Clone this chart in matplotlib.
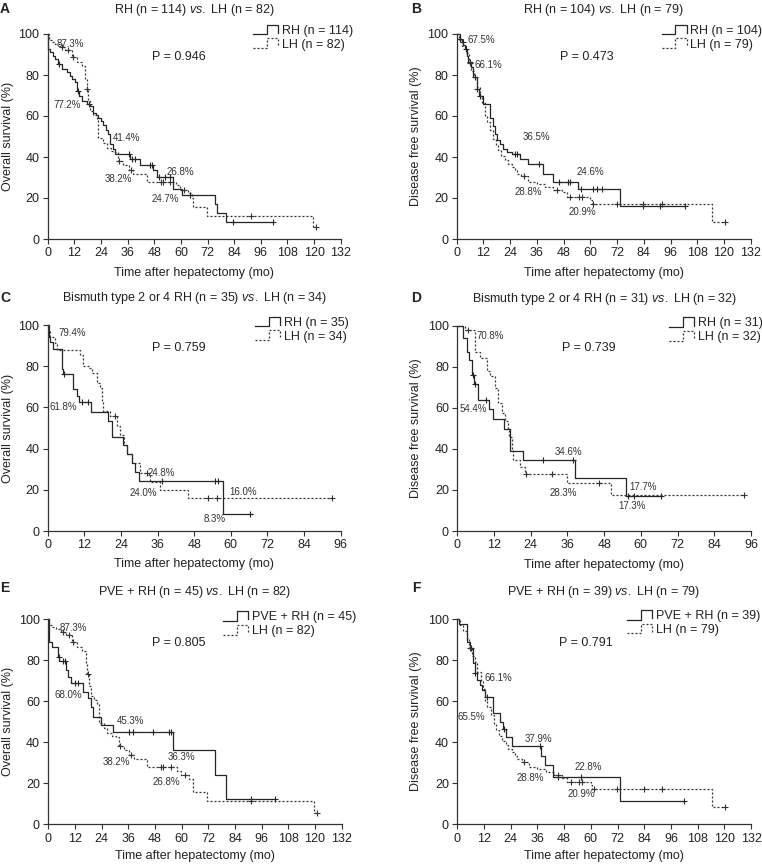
import numpy as np
import matplotlib
matplotlib.use('Agg')
import matplotlib.pyplot as plt
from matplotlib.legend_handler import HandlerBase
from matplotlib.lines import Line2D

plt.rcParams['font.family'] = ['Liberation Sans', 'DejaVu Sans']
plt.rcParams['mathtext.fontset'] = 'custom'
plt.rcParams['mathtext.it'] = 'Liberation Sans:italic'
plt.rcParams['mathtext.rm'] = 'Liberation Sans'
plt.rcParams['font.size'] = 9
plt.rcParams['text.color'] = '#222222'

# ---------------- data (step times in months, survival in %) ----------------

# A: overall survival, RH (n = 114)
a_rh_t = [0, 0.3, 1.0, 2.2, 3.3, 4.8, 6.5, 8.6, 10.0, 10.8, 12.3, 13.1, 14.2, 15.3, 17.9,
          19.1, 20.6, 21.8, 22.8, 24.0, 25.1, 26.2, 27.3, 28.1, 29.2, 30.3, 37.1, 41.6,
          47.5, 49.1, 56.6, 60.4, 75.4, 76.4, 80.3]
a_rh_s = [100, 92.8, 91.1, 89.5, 88.0, 85.4, 83.0, 81.3, 79.5, 78.0, 76.4, 72.3, 69.8, 67.4,
          65.7, 64.9, 61.6, 60.4, 59.2, 57.4, 55.6, 53.3, 51.0, 46.1, 43.7, 41.4, 39.2, 36.0,
          33.8, 30.3, 24.6, 21.4, 17.3, 12.8, 8.4]
a_rh_end = 101.6
a_rh_cens = [5.0, 13.5, 18.5, 36.5, 38.0, 39.5, 46.0, 47.0, 50.0, 53.0, 55.0, 64.0, 83.6, 101.6]

# overall survival, LH (n = 82), used in A and E
lh_os_t = [0, 0.5, 1.8, 3.3, 5.6, 7.8, 10.8, 13.1, 15.3, 16.8, 17.6, 18.3, 19.1, 20.5, 22.1,
           22.8, 25.1, 26.6, 28.5, 30.3, 31.8, 34.1, 36.5, 38.6, 44.6, 58.0, 59.6, 63.4,
           64.9, 65.3, 71.6, 119.7]
lh_os_s = [100, 97.2, 96.0, 95.2, 93.6, 92.0, 88.7, 86.2, 84.6, 78.0, 73.0, 67.4, 62.5, 60.5,
           58.4, 49.3, 46.9, 44.4, 43.0, 42.4, 38.0, 36.0, 33.8, 31.9, 27.9, 26.2, 23.8, 22.2,
           19.8, 15.7, 11.2, 5.7]
lh_os_end = 121.0
lh_os_cens = [6.5, 9.3, 11.3, 17.7, 32.3, 37.4, 50.9, 51.8, 55.1, 61.3, 91.4, 121.0]

# B: disease free survival, RH (n = 104)
b_rh_t = [0, 1.5, 2.2, 3.0, 3.7, 4.8, 5.2, 6.3, 7.5, 9.0, 10.2, 11.7, 15.0, 16.5, 17.2, 18.3,
          19.5, 21.0, 22.5, 24.7, 28.4, 32.2, 38.9, 43.4, 54.6, 73.4]
b_rh_s = [100, 97.7, 96.0, 94.5, 92.8, 89.5, 86.2, 83.8, 78.9, 73.1, 69.8, 65.7, 59.2, 55.1,
          51.0, 48.5, 46.1, 44.0, 42.4, 41.3, 39.2, 36.8, 31.9, 27.9, 24.6, 16.3]
b_rh_end = 102.5
b_rh_cens = [1.6, 2.7, 4.2, 6.0, 8.0, 9.3, 10.5, 26.2, 26.9, 37.1, 46.1, 50.1, 50.9, 55.8,
             61.4, 62.9, 65.1, 83.8, 91.3, 102.5]

# disease free survival, LH (n = 79), used in B and F
lh_dfs_t = [0, 1.2, 2.5, 4.2, 5.4, 6.5, 7.9, 9.0, 10.5, 11.5, 12.5, 13.5, 15.0, 16.5, 17.5,
            18.7, 20.0, 21.7, 23.0, 24.7, 26.0, 27.0, 29.0, 32.2, 35.9, 39.7, 43.4, 47.2,
            49.4, 59.9, 60.6, 114.5]
lh_dfs_s = [100, 97.0, 94.0, 90.6, 86.0, 82.0, 79.2, 74.3, 70.0, 66.1, 60.0, 57.0, 53.0, 49.0,
            46.0, 43.2, 40.5, 38.4, 36.7, 35.1, 33.5, 31.9, 30.5, 27.9, 27.0, 25.4, 23.8, 22.7,
            20.6, 19.0, 17.3, 8.4]
lh_dfs_end = 120.5
lh_dfs_cens = [5.8, 30.2, 45.2, 50.9, 54.9, 56.1, 61.4, 71.9, 83.8, 92.1, 120.5]

# C: overall survival, Bismuth type 2 or 4, RH (n = 35) / LH (n = 34)
c_rh_t = [0, 0.3, 0.8, 1.9, 4.6, 5.1, 8.2, 9.7, 10.4, 14.1, 19.9, 21.2, 24.6, 25.9, 27.5,
          28.6, 30.0, 57.5]
c_rh_s = [100, 94.4, 91.8, 88.2, 78.7, 76.0, 68.8, 65.6, 62.4, 58.0, 53.6, 45.8, 41.6, 37.4,
          32.9, 28.8, 24.5, 8.3]
c_rh_end = 66.8
c_rh_cens = [5.5, 11.1, 13.3, 37.6, 54.8, 55.9, 66.3]

c_lh_t = [0, 0.2, 0.8, 2.4, 2.9, 10.6, 11.7, 13.6, 14.4, 16.0, 17.1, 17.7, 18.2, 20.4, 22.6,
          23.7, 25.0, 26.0, 27.5, 30.2, 33.5, 36.8, 46.0]
c_lh_s = [100, 97.6, 94.4, 91.2, 88.0, 85.6, 80.0, 79.2, 76.8, 72.0, 69.6, 62.4, 58.4, 56.0,
          51.2, 46.4, 41.8, 37.4, 32.9, 28.0, 24.0, 19.9, 15.9]
c_lh_end = 93.0
c_lh_cens = [22.0, 32.4, 52.6, 55.6, 93.0]

# D: disease free survival, Bismuth type 2 or 4, RH (n = 31) / LH (n = 32)
d_rh_t = [0, 2.0, 3.1, 3.9, 4.7, 5.6, 6.9, 10.5, 11.8, 15.3, 17.2, 21.6, 38.5, 55.1]
d_rh_s = [100, 93.9, 87.4, 83.4, 76.1, 71.8, 64.0, 59.2, 54.4, 49.8, 39.2, 34.6, 25.7, 17.1]
d_rh_end = 66.6
d_rh_cens = [5.0, 5.8, 9.4, 28.1, 37.9, 55.9, 57.7, 66.6]

d_lh_t = [0, 2.5, 5.8, 7.4, 9.6, 10.7, 12.3, 13.4, 14.5, 15.6, 16.7, 17.0, 17.8, 18.3, 20.5,
          22.0, 35.7, 50.1]
d_lh_s = [100, 97.9, 87.4, 84.2, 77.7, 75.3, 69.7, 62.4, 57.6, 53.5, 49.5, 46.0, 39.5, 34.6,
          31.4, 27.8, 23.3, 17.6]
d_lh_end = 93.8
d_lh_cens = [3.6, 22.3, 31.0, 46.4, 93.8]

# E: overall survival, PVE + RH (n = 45)
e_rh_t = [0, 0.3, 1.7, 4.2, 5.0, 8.0, 8.7, 10.2, 15.5, 17.7, 19.2, 20.0, 23.7, 29.0, 56.0,
          75.2, 80.0]
e_rh_s = [100, 89.0, 86.6, 81.7, 79.3, 75.2, 71.9, 68.6, 64.5, 61.3, 57.2, 52.3, 48.5, 44.8,
          36.3, 23.9, 12.3]
e_rh_end = 101.8
e_rh_cens = [4.7, 6.5, 7.7, 12.2, 13.2, 36.5, 38.3, 47.0, 54.2, 55.3, 91.3, 101.8]

# F: disease free survival, PVE + RH (n = 39)
f_rh_t = [0, 0.8, 4.5, 5.7, 7.2, 7.9, 9.0, 10.2, 10.9, 12.4, 16.1, 19.1, 20.6, 22.1, 24.7,
          37.8, 39.3, 43.0, 73.2]
f_rh_s = [100, 97.4, 88.9, 85.7, 78.4, 73.5, 70.2, 67.8, 65.4, 62.1, 54.0, 49.9, 46.5, 42.4,
          37.9, 33.5, 28.7, 23.1, 11.5]
f_rh_end = 102.1
f_rh_cens = [6.0, 8.1, 13.2, 20.9, 37.1, 45.3, 55.5, 102.1]

# percentages written on the plots
a_pct = ['87.3%', '77.2%', '41.4%', '26.8%', '38.2%', '24.7%']
a_pct_xy = [(10.4, 95.3), (8.6, 65.4), (35.6, 49.1), (59.6, 32.8), (31.8, 29.3), (52.8, 19.5)]
b_pct = ['67.5%', '66.1%', '36.5%', '24.6%', '28.8%', '20.9%']
b_pct_xy = [(11.2, 97.1), (14.2, 84.9), (35.9, 49.9), (59.8, 32.8), (32.2, 23.1), (56.4, 13.3)]
c_pct = ['79.4%', '61.8%', '24.8%', '24.0%', '16.0%', '8.3%']
c_pct_xy = [(7.9, 96.0), (5.1, 60.3), (37.3, 28.0), (31.3, 18.3), (64.1, 19.1), (54.8, 5.7)]
d_pct = ['70.8%', '54.4%', '34.6%', '28.3%', '17.7%', '17.3%']
d_pct_xy = [(10.7, 95.1), (5.2, 59.4), (36.3, 38.6), (34.6, 18.7), (60.8, 21.3), (57.0, 12.3)]
e_pct = ['87.3%', '68.0%', '45.3%', '36.3%', '38.2%', '26.8%']
e_pct_xy = [(11.2, 95.5), (9.0, 63.0), (36.8, 50.3), (60.0, 32.6), (30.8, 30.2), (53.0, 20.5)]
f_pct = ['66.1%', '65.5%', '37.9%', '22.8%', '28.8%', '20.9%']
f_pct_xy = [(18.4, 71.1), (6.5, 52.4), (36.4, 41.5), (58.9, 28.1), (33.0, 22.4), (55.9, 14.8)]

p_values = ['P = 0.946', 'P = 0.473', 'P = 0.759', 'P = 0.739', 'P = 0.805', 'P = 0.791']

W, H = 762, 868
SOLID = '#262626'
DOT = '#333333'


class StepHandler(HandlerBase):
    # legend key drawn as a small step
    def create_artists(self, legend, orig_handle, xdescent, ydescent, width, height,
                       fontsize, trans):
        x = np.array([0, 0.55, 0.55, 1.0, 1.0]) * width - xdescent
        y = np.array([-0.05, -0.05, 1.05, 1.05, 0.1]) * height - ydescent
        line = Line2D(x, y)
        line.update_from(orig_handle)
        line.set_marker('')
        line.set_transform(trans)
        return [line]


def km(ax, t, s, end, cens, dotted):
    tt = list(t) + [end]
    ss = list(s) + [s[-1]]
    if dotted:
        kw = dict(color=DOT, lw=0.9, linestyle=(0, (1.6, 1.6)))
    else:
        kw = dict(color=SOLID, lw=0.9, linestyle='-')
    line, = ax.step(tt, ss, where='post', clip_on=False, **kw)
    idx = np.searchsorted(t, cens, side='right') - 1
    ax.plot(cens, np.array(s)[idx], '+', color=kw['color'], ms=4.5, mew=0.8,
            clip_on=False)
    return line


fig = plt.figure(figsize=(W / 100, H / 100), dpi=100)

panels = [
    dict(rect=(47.7, 34, 293, 205), xmax=132, letter='A', lx=5, ly=9,
         title=r'RH (n = 114) $\it{vs.}$ LH (n = 82)', ty=10,
         ylab='Overall survival (%)', yl_x=8.5, xl_y=273,
         rh=(a_rh_t, a_rh_s, a_rh_end, a_rh_cens), lh=(lh_os_t, lh_os_s, lh_os_end, lh_os_cens),
         names=('RH (n = 114)', 'LH (n = 82)'), pct=a_pct, pxy=a_pct_xy, pv=p_values[0],
         pv_xy=(47.0, 88.8), leg=(0.700, 1.045)),
    dict(rect=(456.7, 34, 294, 205), xmax=132, letter='B', lx=416, ly=9,
         title=r'RH (n = 104) $\it{vs.}$ LH (n = 79)', ty=10,
         ylab='Disease free survival (%)', yl_x=415.5, xl_y=273,
         rh=(b_rh_t, b_rh_s, b_rh_end, b_rh_cens), lh=(lh_dfs_t, lh_dfs_s, lh_dfs_end, lh_dfs_cens),
         names=('RH (n = 104)', 'LH (n = 79)'), pct=b_pct, pxy=b_pct_xy, pv=p_values[1],
         pv_xy=(46.4, 88.9), leg=(0.697, 1.045)),
    dict(rect=(47.7, 325, 293, 206), xmax=96, letter='C', lx=5, ly=298,
         title=r'Bismuth type 2 or 4 RH (n = 35) $\it{vs.}$ LH (n = 34)', ty=298,
         ylab='Overall survival (%)', yl_x=8.5, xl_y=564,
         rh=(c_rh_t, c_rh_s, c_rh_end, c_rh_cens), lh=(c_lh_t, c_lh_s, c_lh_end, c_lh_cens),
         names=('RH (n = 35)', 'LH (n = 34)'), pct=c_pct, pxy=c_pct_xy, pv=p_values[2],
         pv_xy=(34.1, 88.7), leg=(0.7075, 1.040)),
    dict(rect=(457.3, 325.7, 293.7, 205.3), xmax=96, letter='D', lx=416, ly=298,
         title=r'Bismuth type 2 or 4 RH (n = 31) $\it{vs.}$ LH (n = 32)', ty=299,
         ylab='Disease free survival (%)', yl_x=415.5, xl_y=565,
         rh=(d_rh_t, d_rh_s, d_rh_end, d_rh_cens), lh=(d_lh_t, d_lh_s, d_lh_end, d_lh_cens),
         names=('RH (n = 31)', 'LH (n = 32)'), pct=d_pct, pxy=d_pct_xy, pv=p_values[3],
         pv_xy=(34.1, 89.0), leg=(0.721, 1.040)),
    dict(rect=(48.3, 619, 293.4, 205.3), xmax=132, letter='E', lx=5, ly=588,
         title=r'PVE + RH (n = 45) $\it{vs.}$ LH (n = 82)', ty=592,
         ylab='Overall survival (%)', yl_x=8.5, xl_y=856,
         rh=(e_rh_t, e_rh_s, e_rh_end, e_rh_cens), lh=(lh_os_t, lh_os_s, lh_os_end, lh_os_cens),
         names=('PVE + RH (n = 45)', 'LH (n = 82)'), pct=e_pct, pxy=e_pct_xy, pv=p_values[4],
         pv_xy=(46.8, 88.5), leg=(0.595, 1.038)),
    dict(rect=(457.3, 619, 293.7, 205.3), xmax=132, letter='F', lx=416, ly=588,
         title=r'PVE + RH (n = 39) $\it{vs.}$ LH (n = 79)', ty=592,
         ylab='Disease free survival (%)', yl_x=415.5, xl_y=856,
         rh=(f_rh_t, f_rh_s, f_rh_end, f_rh_cens), lh=(lh_dfs_t, lh_dfs_s, lh_dfs_end, lh_dfs_cens),
         names=('PVE + RH (n = 39)', 'LH (n = 79)'), pct=f_pct, pxy=f_pct_xy, pv=p_values[5],
         pv_xy=(45.9, 88.5), leg=(0.577, 1.043)),
]

for p in panels:
    x0, y0, w, h = p['rect']
    ax = fig.add_axes([x0 / W, 1 - (y0 + h) / H, w / W, h / H])
    l1 = km(ax, *p['rh'], dotted=False)
    l2 = km(ax, *p['lh'], dotted=True)

    ax.set_xlim(0, p['xmax'])
    ax.set_ylim(0, 100)
    ax.set_xticks(np.arange(0, p['xmax'] + 1, 12))
    ax.set_yticks(np.arange(0, 101, 20))
    for side in ['top', 'right']:
        ax.spines[side].set_visible(False)
    for side in ['left', 'bottom']:
        ax.spines[side].set_color('#333333')
        ax.spines[side].set_linewidth(0.9)
    ax.tick_params(direction='out', length=3.5, width=0.8, color='#333333',
                   labelsize=9, labelcolor='#222222', pad=2.5)

    for txt, (tx, ty) in zip(p['pct'], p['pxy']):
        ax.text(tx, ty, txt, fontsize=7, ha='center', va='center', color='#333333')
    ax.text(p['pv_xy'][0], p['pv_xy'][1], p['pv'], fontsize=9, ha='left', va='center')

    ax.legend([l1, l2], p['names'], handler_map={Line2D: StepHandler()},
              loc='upper left', bbox_to_anchor=p['leg'], frameon=False, fontsize=9,
              handlelength=2.0, handletextpad=0.3, labelspacing=0.15, borderpad=0,
              borderaxespad=0)

    cx = (x0 + w / 2) / W
    fig.text(cx, 1 - p['ty'] / H, p['title'], ha='center', va='center', fontsize=9)
    fig.text(p['lx'] / W, 1 - p['ly'] / H, p['letter'], ha='center', va='center',
             fontsize=10, fontweight='bold')
    fig.text(p['yl_x'] / W, 1 - (y0 + h / 2) / H, p['ylab'], rotation=90,
             ha='center', va='center', fontsize=9)
    fig.text(cx, 1 - p['xl_y'] / H, 'Time after hepatectomy (mo)', ha='center',
             va='center', fontsize=9)

fig.savefig('out.png', dpi=100)
